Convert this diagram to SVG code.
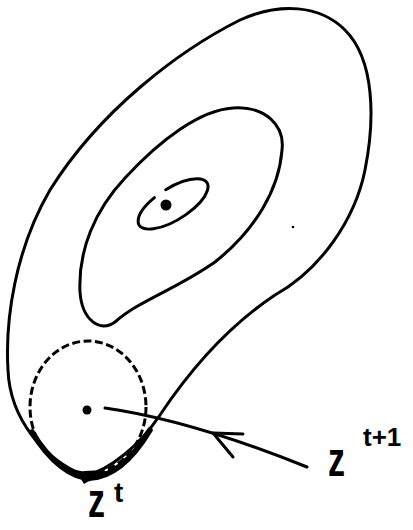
<svg xmlns="http://www.w3.org/2000/svg" width="413" height="530" viewBox="0 0 413 530">
<style>
.c{fill:none;stroke:#000;stroke-width:3;stroke-linecap:round;stroke-linejoin:round}
.d{fill:none;stroke:#000;stroke-width:3;stroke-dasharray:8 3.5;stroke-linecap:butt}
.lbl{font-family:"Liberation Sans",Arial,sans-serif;font-weight:bold;fill:#000}
</style>
<rect width="413" height="530" fill="#fff"/>
<g id="outer-contour">
<path class="c" d="M85,476 C45,460 10,420 8,370 C5,320 15,250 50,190 C100,110 180,50 240,20 C280,2 320,5 345,30 C375,60 375,120 365,170 C355,220 320,270 275,295 C230,325 190,370 160,415 C140,445 110,470 85,476 Z"/>
</g>
<g id="middle-contour">
<path class="c" d="M233,108 C265,106 285,125 282,150 C279,190 255,230 215,262 C175,290 140,300 115,322 C100,333 82,320 80,292 C78,250 95,210 125,178 C160,140 200,110 233,108 Z"/>
</g>
<g id="inner-contour">
<path class="c" d="M165.7,189.7 A40,16 -32 1 1 154.4,197.7"/>
</g>
<g id="minimum">
<circle cx="166" cy="205" r="5.5" fill="#000"/>
</g>
<g id="stray-dot">
<circle cx="293" cy="227" r="1.3" fill="#000"/>
</g>
<g id="trust-region">
<ellipse class="d" cx="88" cy="407" rx="58" ry="66"/>
<path d="M32,432 C50,462 72,478 90,478 C112,477 132,460 150,430" fill="none" stroke="#000" stroke-width="5.5" stroke-linecap="round"/>
<path d="M76,473 C85,470 100,470 110,472 C100,478 90,480 84,484 C82,480 79,477 76,473 Z" fill="#000"/>
</g>
<g id="z-t1-point">
<circle cx="87" cy="410" r="4.5" fill="#000"/>
</g>
<g id="connectors">
<path class="c" d="M105,408 Q190,420 307,467"/>
<path class="c" d="M243,434 L213,433 L233,457" stroke-width="3.5"/>
</g>
<g id="label-zt">
<text class="lbl" font-size="34" transform="translate(88,517) scale(1,1.4)">z</text>
<text class="lbl" font-size="28" x="114" y="502">t</text>
</g>
<g id="label-zt1">
<text class="lbl" font-size="34" transform="translate(328,476) scale(1,1.4)">z</text>
<text class="lbl" font-size="26" x="363" y="446">t+1</text>
</g>
</svg>
